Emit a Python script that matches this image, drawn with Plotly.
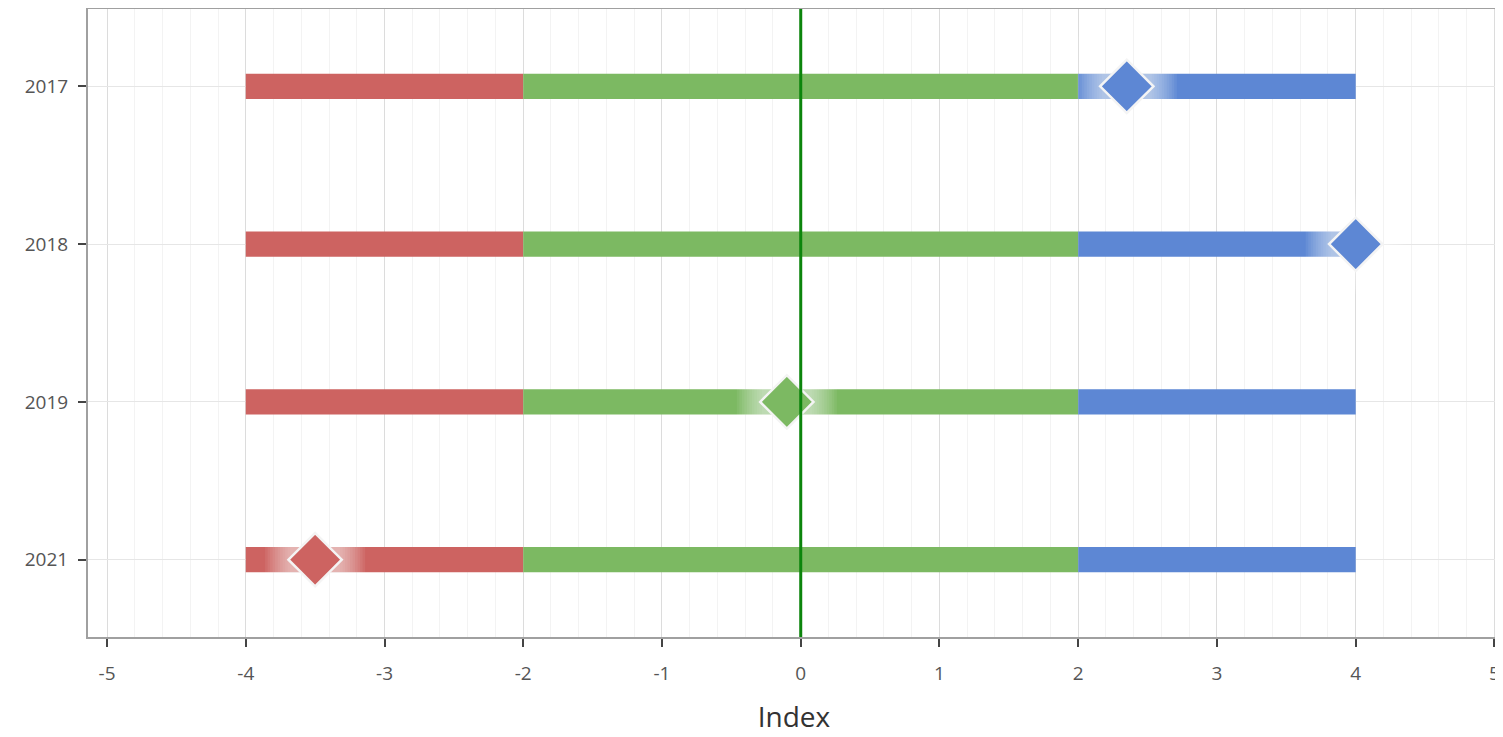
import plotly.graph_objects as go

years = ["2017", "2018", "2019", "2021"]
band_names = ["Low", "Normal", "High"]
band_starts = [-4, -2, 2]
band_ends = [-2, 2, 4]
band_colors = ["#cd6361", "#7cb962", "#5d87d4"]
index_values = [2.35, 4.0, -0.1, -3.5]
x_ticks = [-5, -4, -3, -2, -1, 0, 1, 2, 3, 4, 5]

fig = go.Figure()

for name, s, e, c in zip(band_names, band_starts, band_ends, band_colors):
    fig.add_trace(go.Bar(
        y=years, x=[e - s] * len(years), base=[s] * len(years),
        orientation="h", marker=dict(color=c, line=dict(width=0)),
        width=0.16, name=name, showlegend=False, hoverinfo="skip",
    ))

def band_color(v):
    for s, e, c in zip(band_starts, band_ends, band_colors):
        if s <= v <= e:
            return c
    return band_colors[-1]

mcolors = [band_color(v) for v in index_values]

# soft glow along the bar around each marker
for size in range(100, 46, -5):
    fig.add_trace(go.Scatter(
        x=index_values, y=years, mode="markers",
        marker=dict(symbol="square", size=size, color="white", opacity=0.065, line=dict(width=0)),
        showlegend=False, hoverinfo="skip",
    ))

fig.add_trace(go.Scatter(
    x=index_values, y=years, mode="markers",
    marker=dict(symbol="diamond", size=41, color=mcolors, line=dict(color="#f4f4f4", width=2.5)),
    showlegend=False,
))

fig.add_vline(x=0, line=dict(color="#0c850c", width=3))

# the page body adds an 8px offset; margins compensate for it
fig.update_layout(
    width=1503, height=737,
    margin=dict(l=80, r=11, t=1, b=108, autoexpand=False),
    plot_bgcolor="white", paper_bgcolor="white",
    barmode="overlay",
    font=dict(family="Open Sans, sans-serif", color="#555"),
    xaxis=dict(
        range=[-5.137, 5.04], tickvals=x_ticks, ticktext=[str(t) for t in x_ticks],
        showgrid=True, gridcolor="#dcdcdc", gridwidth=1,
        minor=dict(dtick=0.2, tick0=0, showgrid=True, gridcolor="#f3f3f3", gridwidth=1),
        ticks="outside", ticklen=8, tickwidth=2, tickcolor="#444",
        showline=True, linecolor="#a0a0a0", linewidth=2, mirror=True,
        zeroline=False, automargin=False, ticklabelstandoff=10,
        tickfont=dict(size=19, color="#555"),
        title=dict(text="Index", font=dict(size=28, color="#333", weight=500), standoff=23),
    ),
    yaxis=dict(
        type="category", categoryorder="array", categoryarray=years,
        range=[3.49, -0.49], automargin=False, ticklabelstandoff=6,
        showgrid=True, gridcolor="#e6e6e6", gridwidth=1,
        ticks="outside", ticklen=8, tickwidth=2, tickcolor="#444",
        showline=True, linecolor="#a0a0a0", linewidth=2, mirror=True,
        tickfont=dict(size=19, color="#555"),
    ),
)

fig.write_html("out.html")
